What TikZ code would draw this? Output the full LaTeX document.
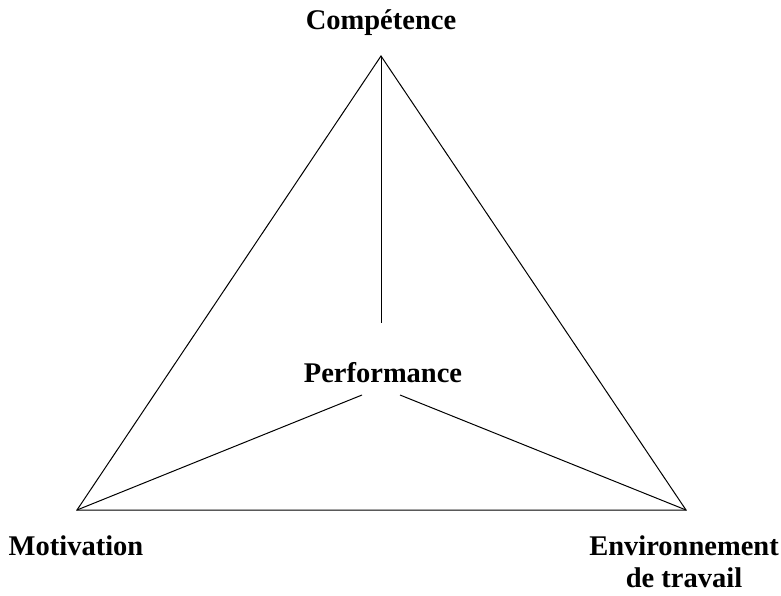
\documentclass[tikz,border=0pt]{standalone}
\usepackage{fontspec}
\setmainfont{Liberation Serif}
\begin{document}
\begin{tikzpicture}[x=1pt,y=-1pt,
  lbl/.style={font=\bfseries\fontsize{28.5}{33}\selectfont, inner sep=0pt, align=center},
  edge/.style={line width=1pt}]
\useasboundingbox (0,0) rectangle (781,596);
\coordinate (top) at (381,56);
\coordinate (bl) at (77,510);
\coordinate (br) at (686,510);
\coordinate (vend) at (381,323);
\coordinate (lstart) at (362,395);
\coordinate (rstart) at (400,395);
\draw[edge] (top) -- (bl) -- (br) -- cycle;
\draw[edge] (top) -- (vend);
\draw[edge] (lstart) -- (bl);
\draw[edge] (rstart) -- (br);
\node[lbl, anchor=base] (comp) at (381,30) {Comp\'etence};
\node[lbl, anchor=base] (perf) at (383,382) {Performance};
\node[lbl, anchor=base] (motiv) at (76,555) {Motivation};
\node[lbl, anchor=base] (env) at (684,555) {Environnement};
\node[lbl, anchor=base] (trav) at (684,587) {de travail};
\end{tikzpicture}
\end{document}
